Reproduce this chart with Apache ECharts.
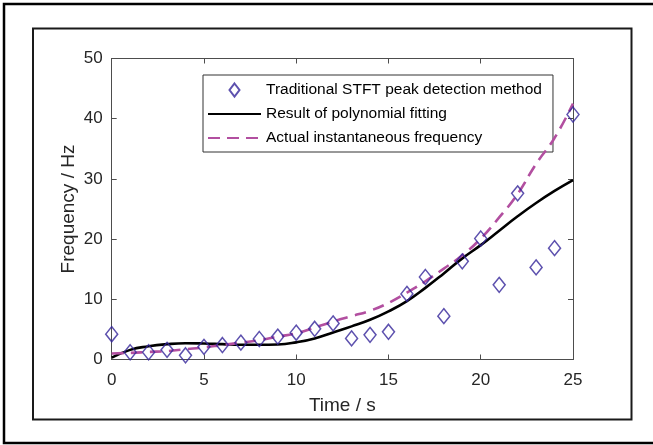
<!DOCTYPE html>
<html>
<head>
<meta charset="utf-8">
<script src="https://cdn.jsdelivr.net/npm/echarts@6/dist/echarts.min.js"></script>
<style>
html,body{margin:0;padding:0;background:#fff;}
#chart{width:653px;height:445px;}
</style>
</head>
<body>
<div id="chart"></div>
<script>
// Time samples (s)
var times = [0,1,2,3,4,5,6,7,8,9,10,11,12,13,14,15,16,17,18,19,20,21,22,23,24,25];
// Traditional STFT peak detection method (Hz)
var stftPeak = [4.2,1.2,1.2,1.6,0.7,2.1,2.4,2.8,3.4,3.8,4.45,5.1,6.0,3.5,4.1,4.6,10.9,13.7,7.2,16.3,20.1,12.4,27.6,15.3,18.5,40.7];
// Result of polynomial fitting (Hz)
var polyFit = [0.3,1.6,2.2,2.55,2.7,2.65,2.55,2.45,2.45,2.5,2.85,3.5,4.5,5.5,6.6,8.0,9.7,11.9,14.3,16.8,19.0,21.4,23.8,26.0,28.0,29.8];
// Actual instantaneous frequency (Hz)
var actualFreq = [1.0,1.1,1.25,1.4,1.7,2.0,2.4,2.8,3.2,3.8,4.35,5.3,6.3,7.2,8.1,9.4,11.1,13.0,15.1,17.3,20.1,23.6,27.5,32.5,36.8,42.5];
// Tick values
var xTicks = [0,5,10,15,20,25];
var yTicks = [0,10,20,30,40,50];

var seriesNames = ['Traditional STFT peak detection method','Result of polynomial fitting','Actual instantaneous frequency'];

function pairs(xs, ys){ return xs.map(function(x,i){ return [x, ys[i]]; }); }

var axisColor = '#4d4d4d';
var fontFam = '"Liberation Sans", Arial, sans-serif';
var hidden = {color:'rgba(0,0,0,0)', borderColor:'rgba(0,0,0,0)', borderWidth:0, opacity:0};

var chart = echarts.init(document.getElementById('chart'), null, {renderer:'canvas'});
var option = {
  animation: false,
  backgroundColor: '#fff',
  textStyle: {fontFamily: fontFam},
  graphic: [
    {type:'rect', shape:{x:4, y:4, width:700, height:439}, style:{fill:'none', stroke:'#000', lineWidth:2.5}, silent:true, z:-10},
    {type:'rect', shape:{x:33, y:28.5, width:598.5, height:391}, style:{fill:'none', stroke:'#1a1a1a', lineWidth:2}, silent:true, z:-10}
  ],
  grid: {left:111.7, top:58.5, right:80, bottom:85.5, containLabel:false},
  legend: {
    orient:'vertical', left:203, top:75,
    padding:[7,11,6,4], itemGap:8, itemWidth:53, itemHeight:14,
    backgroundColor:'#fff', borderColor:'#333', borderWidth:1,
    textStyle:{fontFamily:fontFam, fontSize:15.5, color:'#000'},
    data: [
      {name: seriesNames[0], icon:'path://M0,0M53,14M26.5,0.5L31.5,7L26.5,13.5L21.5,7Z'},
      {name: seriesNames[1], itemStyle: hidden},
      {name: seriesNames[2], itemStyle: hidden}
    ]
  },
  xAxis: [{
    type:'value', min:xTicks[0], max:xTicks[xTicks.length-1], interval:xTicks[1]-xTicks[0],
    name:'Time / s', nameLocation:'middle', nameGap:37, nameMoveOverlap:false,
    nameTextStyle:{fontFamily:fontFam, fontSize:19, color:'#262626'},
    axisLine:{show:true, onZero:false, lineStyle:{color:axisColor, width:1}},
    axisTick:{show:true, inside:true, length:5, lineStyle:{color:axisColor}},
    axisLabel:{fontFamily:fontFam, fontSize:17, color:'#262626', margin:12},
    splitLine:{show:false}
  },{
    type:'value', position:'top', min:xTicks[0], max:xTicks[xTicks.length-1], interval:xTicks[1]-xTicks[0],
    axisLine:{show:true, onZero:false, lineStyle:{color:axisColor, width:1}},
    axisTick:{show:true, inside:true, length:5, lineStyle:{color:axisColor}},
    axisLabel:{show:false}, splitLine:{show:false}
  }],
  yAxis: [{
    type:'value', min:yTicks[0], max:yTicks[yTicks.length-1], interval:yTicks[1]-yTicks[0],
    name:'Frequency / Hz', nameLocation:'middle', nameGap:33, nameMoveOverlap:false,
    nameTextStyle:{fontFamily:fontFam, fontSize:19, color:'#262626'},
    axisLine:{show:true, onZero:false, lineStyle:{color:axisColor, width:1}},
    axisTick:{show:true, inside:true, length:5, lineStyle:{color:axisColor}},
    axisLabel:{fontFamily:fontFam, fontSize:17, color:'#262626', margin:9},
    splitLine:{show:false}
  },{
    type:'value', position:'right', min:yTicks[0], max:yTicks[yTicks.length-1], interval:yTicks[1]-yTicks[0],
    axisLine:{show:true, onZero:false, lineStyle:{color:axisColor, width:1}},
    axisTick:{show:true, inside:true, length:5, lineStyle:{color:axisColor}},
    axisLabel:{show:false}, splitLine:{show:false}
  }],
  series: [
    {
      name: seriesNames[0], type:'scatter', xAxisIndex:0, yAxisIndex:0,
      data: pairs(times, stftPeak),
      symbol:'diamond', symbolSize:[12,15],
      itemStyle:{color:'rgba(255,255,255,0)', borderColor:'#35259a', borderWidth:1.5},
      z:5
    },
    {
      name: seriesNames[1], type:'line', xAxisIndex:0, yAxisIndex:0,
      data: pairs(times, polyFit),
      symbol:'none', smooth:0.5,
      lineStyle:{color:'#000', width:2.6},
      itemStyle:{color:'#000'},
      z:3
    },
    {
      name: seriesNames[2], type:'line', xAxisIndex:0, yAxisIndex:0,
      data: pairs(times, actualFreq),
      symbol:'none', smooth:0.5,
      lineStyle:{color:'#b24fa0', width:2.6, type:[12,7]},
      itemStyle:{color:'#b24fa0'},
      z:4
    }
  ]
};
chart.setOption(option);
</script>
</body>
</html>
